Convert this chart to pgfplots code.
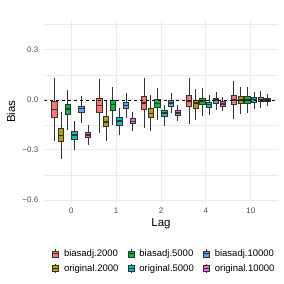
\documentclass[border=0pt]{standalone}
\usepackage{fontspec}
\setmainfont{Liberation Sans}
\usepackage{pgfplots}
\pgfplotsset{compat=1.18}
\usepgfplotslibrary{statistics}
\definecolor{c1}{HTML}{F8766D}
\definecolor{c2}{HTML}{B79F00}
\definecolor{c3}{HTML}{00BA38}
\definecolor{c4}{HTML}{00BFC4}
\definecolor{c5}{HTML}{619CFF}
\definecolor{c6}{HTML}{F564E3}
\definecolor{g20}{HTML}{333333}
\definecolor{g30}{HTML}{4D4D4D}
\definecolor{g92}{HTML}{EBEBEB}
\newcommand{\legbox}[1]{\addlegendimage{legend image code/.code={%
  \draw[g20,line width=0.6pt] (3pt,-4.5pt) -- (3pt,4.5pt);
  \draw[fill=#1,draw=g20,line width=0.6pt] (0pt,-3pt) rectangle (6pt,3pt);
  \draw[g20,line width=1pt] (0pt,0pt) -- (6pt,0pt);}}}
\begin{document}
\begin{tikzpicture}
\begin{axis}[
  at={(44.3pt,81pt)}, anchor=south west,
  scale only axis, width=233.4pt, height=183pt,
  xmin=-0.6, xmax=4.6, ymin=-0.618, ymax=0.478,
  xtick={0,1,2,3,4}, xticklabels={0,1,2,4,10},
  ytick={-0.6,-0.3,0,0.3}, yticklabels={−0.6,−0.3,0.0,0.3},
  minor ytick={-0.45,-0.15,0.15,0.45},
  grid=both,
  major grid style={draw=g92, line width=0.9pt},
  minor grid style={draw=g92, line width=0.45pt},
  axis line style={draw=none},
  major tick length=0pt, minor tick length=0pt,
  tick label style={font=\fontsize{8}{9.6}\selectfont, text=g30},
  yticklabel style={xshift=-2.5pt},
  xticklabel style={yshift=-1.5pt},
  xlabel={Lag}, ylabel={Bias},
  label style={font=\fontsize{11.5}{13}\selectfont},
  xlabel style={at={(axis description cs:0.5,-0.112)}, anchor=center},
  ylabel style={at={(axis description cs:-0.143,0.5)}, anchor=center},
  boxplot/draw direction=y,
  boxplot/box extend=0.12,
  boxplot/whisker extend=0,
  boxplot/every median/.style={line width=1.6pt},
  bp/.style={draw=g20, line width=0.9pt, solid, forget plot},
  legend style={at={(0.514,-0.232)}, anchor=north, draw=none, fill=none,
    font=\fontsize{9.5}{11}\selectfont, row sep=2.5pt,
    /tikz/every odd column/.append style={column sep=3pt},
    /tikz/every even column/.append style={column sep=7pt}},
  legend columns=3, legend cell align=left,
]
% Lag 0
\addplot[bp, fill=c1, boxplot prepared={draw position=-0.375, lower whisker=-0.244, lower quartile=-0.105, median=-0.058, upper quartile=-0.008, upper whisker=0.132}] coordinates {};
\addplot[bp, fill=c2, boxplot prepared={draw position=-0.225, lower whisker=-0.354, lower quartile=-0.252, median=-0.214, upper quartile=-0.174, upper whisker=-0.072}] coordinates {};
\addplot[bp, fill=c3, boxplot prepared={draw position=-0.075, lower whisker=-0.178, lower quartile=-0.088, median=-0.054, upper quartile=-0.030, upper whisker=0.056}] coordinates {};
\addplot[bp, fill=c4, boxplot prepared={draw position=0.075, lower whisker=-0.302, lower quartile=-0.236, median=-0.210, upper quartile=-0.192, upper whisker=-0.128}] coordinates {};
\addplot[bp, fill=c5, boxplot prepared={draw position=0.225, lower whisker=-0.138, lower quartile=-0.078, median=-0.052, upper quartile=-0.038, upper whisker=0.020}] coordinates {};
\addplot[bp, fill=c6, boxplot prepared={draw position=0.375, lower whisker=-0.272, lower quartile=-0.228, median=-0.212, upper quartile=-0.198, upper whisker=-0.152}] coordinates {};
% Lag 1
\addplot[bp, fill=c1, boxplot prepared={draw position=0.625, lower whisker=-0.198, lower quartile=-0.078, median=-0.034, upper quartile=0.006, upper whisker=0.122}] coordinates {};
\addplot[bp, fill=c2, boxplot prepared={draw position=0.775, lower whisker=-0.248, lower quartile=-0.162, median=-0.132, upper quartile=-0.098, upper whisker=-0.008}] coordinates {};
\addplot[bp, fill=c3, boxplot prepared={draw position=0.925, lower whisker=-0.148, lower quartile=-0.064, median=-0.028, upper quartile=-0.002, upper whisker=0.074}] coordinates {};
\addplot[bp, fill=c4, boxplot prepared={draw position=1.075, lower whisker=-0.212, lower quartile=-0.154, median=-0.128, upper quartile=-0.104, upper whisker=-0.050}] coordinates {};
\addplot[bp, fill=c5, boxplot prepared={draw position=1.225, lower whisker=-0.108, lower quartile=-0.054, median=-0.034, upper quartile=-0.018, upper whisker=0.038}] coordinates {};
\addplot[bp, fill=c6, boxplot prepared={draw position=1.375, lower whisker=-0.188, lower quartile=-0.144, median=-0.130, upper quartile=-0.112, upper whisker=-0.074}] coordinates {};
% Lag 2
\addplot[bp, fill=c1, boxplot prepared={draw position=1.625, lower whisker=-0.168, lower quartile=-0.058, median=-0.020, upper quartile=0.018, upper whisker=0.132}] coordinates {};
\addplot[bp, fill=c2, boxplot prepared={draw position=1.775, lower whisker=-0.188, lower quartile=-0.108, median=-0.082, upper quartile=-0.054, upper whisker=0.028}] coordinates {};
\addplot[bp, fill=c3, boxplot prepared={draw position=1.925, lower whisker=-0.118, lower quartile=-0.048, median=-0.022, upper quartile=0.002, upper whisker=0.072}] coordinates {};
\addplot[bp, fill=c4, boxplot prepared={draw position=2.075, lower whisker=-0.154, lower quartile=-0.102, median=-0.078, upper quartile=-0.062, upper whisker=-0.034}] coordinates {};
\addplot[bp, fill=c5, boxplot prepared={draw position=2.225, lower whisker=-0.082, lower quartile=-0.038, median=-0.018, upper quartile=-0.002, upper whisker=0.042}] coordinates {};
\addplot[bp, fill=c6, boxplot prepared={draw position=2.375, lower whisker=-0.128, lower quartile=-0.092, median=-0.078, upper quartile=-0.064, upper whisker=-0.034}] coordinates {};
% Lag 4
\addplot[bp, fill=c1, boxplot prepared={draw position=2.625, lower whisker=-0.142, lower quartile=-0.042, median=-0.008, upper quartile=0.026, upper whisker=0.128}] coordinates {};
\addplot[bp, fill=c2, boxplot prepared={draw position=2.775, lower whisker=-0.122, lower quartile=-0.054, median=-0.020, upper quartile=-0.002, upper whisker=0.066}] coordinates {};
\addplot[bp, fill=c3, boxplot prepared={draw position=2.925, lower whisker=-0.098, lower quartile=-0.030, median=-0.008, upper quartile=0.010, upper whisker=0.072}] coordinates {};
\addplot[bp, fill=c4, boxplot prepared={draw position=3.075, lower whisker=-0.088, lower quartile=-0.044, median=-0.028, upper quartile=-0.014, upper whisker=0.028}] coordinates {};
\addplot[bp, fill=c5, boxplot prepared={draw position=3.225, lower whisker=-0.064, lower quartile=-0.020, median=-0.002, upper quartile=0.008, upper whisker=0.048}] coordinates {};
\addplot[bp, fill=c6, boxplot prepared={draw position=3.375, lower whisker=-0.068, lower quartile=-0.038, median=-0.024, upper quartile=-0.012, upper whisker=0.014}] coordinates {};
% Lag 10
\addplot[bp, fill=c1, boxplot prepared={draw position=3.625, lower whisker=-0.114, lower quartile=-0.030, median=-0.002, upper quartile=0.028, upper whisker=0.112}] coordinates {};
\addplot[bp, fill=c2, boxplot prepared={draw position=3.775, lower whisker=-0.084, lower quartile=-0.024, median=0.000, upper quartile=0.018, upper whisker=0.078}] coordinates {};
\addplot[bp, fill=c3, boxplot prepared={draw position=3.925, lower whisker=-0.078, lower quartile=-0.020, median=0.000, upper quartile=0.018, upper whisker=0.076}] coordinates {};
\addplot[bp, fill=c4, boxplot prepared={draw position=4.075, lower whisker=-0.054, lower quartile=-0.014, median=0.002, upper quartile=0.012, upper whisker=0.048}] coordinates {};
\addplot[bp, fill=c5, boxplot prepared={draw position=4.225, lower whisker=-0.050, lower quartile=-0.012, median=0.002, upper quartile=0.014, upper whisker=0.052}] coordinates {};
\addplot[bp, fill=c6, boxplot prepared={draw position=4.375, lower whisker=-0.038, lower quartile=-0.008, median=0.000, upper quartile=0.008, upper whisker=0.036}] coordinates {};
% zero line
\addplot[black, dashed, line width=0.5pt, forget plot] coordinates {(-0.6,0) (4.6,0)};
\legbox{c1}\addlegendentry{biasadj.2000}
\legbox{c3}\addlegendentry{biasadj.5000}
\legbox{c5}\addlegendentry{biasadj.10000}
\legbox{c2}\addlegendentry{original.2000}
\legbox{c4}\addlegendentry{original.5000}
\legbox{c6}\addlegendentry{original.10000}
\end{axis}
\pgfresetboundingbox
\path (0,0) rectangle (284pt,284pt);
\end{tikzpicture}
\end{document}
